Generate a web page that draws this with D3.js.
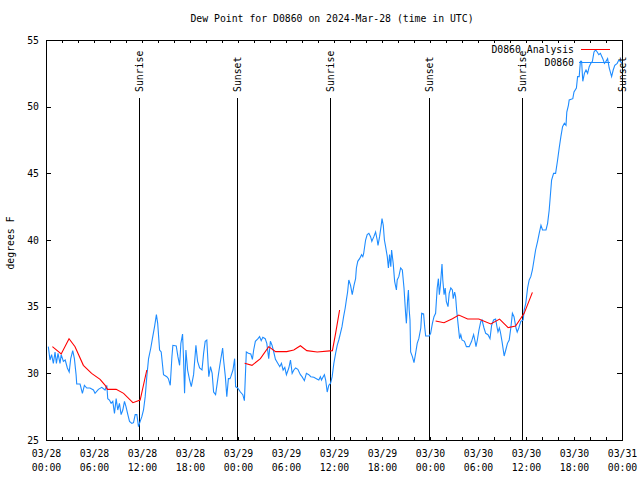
<!DOCTYPE html>
<html><head><meta charset="utf-8">
<script src="https://cdn.jsdelivr.net/npm/d3@7"></script>
<style>
body{margin:0;background:#fff;}
svg{display:block;}
text{font-family:"DejaVu Sans Mono","Liberation Mono",monospace;font-size:9.8px;fill:#000;}
</style></head><body>
<svg id="c" width="640" height="480"></svg>
<script>
const chartTitle = "Dew Point for D0860 on 2024-Mar-28 (time in UTC)";
const yLabel = "degrees F";
const seriesNames = ["D0860 Analysis", "D0860"];
const yTicks = [25, 30, 35, 40, 45, 50, 55];
const xTickHours = [0, 6, 12, 18, 24, 30, 36, 42, 48, 54, 60, 66, 72];
const xTickDay = ["03/28","03/28","03/28","03/28","03/29","03/29","03/29","03/29","03/30","03/30","03/30","03/30","03/31"];
const xTickTime = ["00:00","06:00","12:00","18:00","00:00","06:00","12:00","18:00","00:00","06:00","12:00","18:00","00:00"];
const eventNames = ["Sunrise","Sunset","Sunrise","Sunset","Sunrise","Sunset"];
const eventHours = [11.65, 23.9, 35.55, 47.9, 59.45, 71.95];

// observed dew point: [hours since 2024-03-28 00:00 UTC, degF]
const observed = [[0.29,32.0],[0.5,31.0],[0.7,31.4],[0.92,30.75],[1.13,31.6],[1.3,30.75],[1.5,31.5],[1.75,30.75],[1.9,31.4],[2.17,30.9],[2.4,31.0],[2.67,30.4],[2.9,30.1],[3.09,31.1],[3.34,31.7],[3.55,31.1],[3.76,29.9],[3.84,29.2],[4.26,29.2],[4.55,28.5],[4.8,29.1],[5.1,28.9],[5.5,28.9],[5.93,28.75],[6.13,28.5],[6.55,28.8],[6.97,28.95],[7.38,28.75],[7.6,29.1],[7.72,28.1],[7.93,28.0],[8.14,27.75],[8.35,27.9],[8.56,27.0],[8.77,28.1],[8.97,27.25],[9.18,27.75],[9.39,26.9],[9.6,27.25],[9.81,27.9],[10.0,27.5],[10.23,26.9],[10.44,26.4],[10.73,26.25],[10.94,26.3],[11.15,26.9],[11.36,26.9],[11.56,26.0],[11.77,26.4],[11.98,26.75],[12.19,27.25],[12.4,28.25],[12.6,29.75],[12.82,31.1],[13.1,31.9],[13.3,32.6],[13.57,33.5],[13.8,34.4],[13.96,33.75],[14.2,31.75],[14.4,31.6],[14.69,29.9],[15.1,29.75],[15.3,29.6],[15.53,29.1],[15.74,31.25],[15.86,32.1],[16.28,32.05],[16.49,31.25],[16.7,30.6],[16.86,32.25],[17.07,32.95],[17.2,31.0],[17.32,28.5],[17.49,31.75],[17.7,30.25],[17.95,29.5],[18.16,29.0],[18.45,29.9],[18.74,32.1],[18.95,30.9],[19.2,30.4],[19.5,30.25],[19.7,31.5],[19.9,32.4],[20.1,32.5],[20.35,29.75],[20.56,30.5],[20.77,30.0],[20.95,28.6],[21.2,28.4],[21.4,29.25],[21.6,30.1],[21.83,31.0],[22.08,31.9],[22.2,31.0],[22.42,29.75],[22.6,28.25],[22.8,29.6],[23.0,29.6],[23.1,29.75],[23.37,30.25],[23.58,31.1],[23.7,29.0],[23.96,28.9],[24.3,28.6],[24.6,28.4],[24.8,27.95],[25.04,31.6],[25.3,31.5],[25.6,31.45],[25.8,31.05],[25.96,31.75],[26.17,32.4],[26.5,32.6],[26.7,32.75],[26.9,32.45],[27.1,32.7],[27.4,32.6],[27.6,32.25],[27.84,31.1],[28.05,32.4],[28.26,32.1],[28.47,31.6],[28.68,31.05],[28.97,30.75],[29.22,30.5],[29.43,30.75],[29.64,30.25],[29.85,30.45],[30.05,29.9],[30.35,30.4],[30.56,31.0],[30.77,30.0],[30.98,30.25],[31.2,30.4],[31.48,30.3],[31.8,29.9],[32.0,29.75],[32.3,29.45],[32.55,30.0],[32.85,29.9],[33.1,29.75],[33.48,29.7],[33.8,29.6],[34.1,29.5],[34.3,29.75],[34.43,29.5],[34.65,29.75],[34.8,29.9],[34.96,29.5],[35.15,28.6],[35.35,29.1],[35.57,29.25],[35.77,29.75],[35.98,30.75],[36.2,31.5],[36.4,32.1],[36.6,32.5],[36.8,33.0],[37.0,33.5],[37.2,34.25],[37.4,34.9],[37.57,35.6],[37.7,36.1],[37.85,37.0],[38.07,36.6],[38.28,35.9],[38.5,36.6],[38.7,37.1],[38.8,37.9],[38.97,38.4],[39.2,38.6],[39.45,38.9],[39.6,38.75],[39.7,38.95],[39.95,40.0],[40.15,40.4],[40.36,40.5],[40.57,40.25],[40.73,39.9],[40.98,40.25],[41.2,40.6],[41.4,40.0],[41.5,39.6],[41.7,40.25],[41.9,41.1],[42.0,41.6],[42.16,41.1],[42.3,40.0],[42.45,39.5],[42.66,38.75],[42.8,37.9],[42.95,38.9],[43.1,38.0],[43.2,39.25],[43.4,38.25],[43.58,36.9],[43.8,36.25],[43.9,37.0],[44.1,37.25],[44.33,37.9],[44.54,37.75],[44.75,36.4],[44.95,34.5],[45.05,33.75],[45.2,35.5],[45.3,36.25],[45.4,34.75],[45.5,34.0],[45.58,31.6],[45.8,31.25],[46.0,30.8],[46.2,31.5],[46.4,32.25],[46.6,32.6],[46.85,33.4],[46.96,34.5],[47.2,34.45],[47.35,33.4],[47.46,32.8],[47.9,32.8],[48.08,33.0],[48.3,33.75],[48.5,34.25],[48.7,34.5],[48.9,36.4],[49.05,37.1],[49.17,35.9],[49.3,36.6],[49.5,38.2],[49.6,37.0],[49.76,35.9],[49.9,36.4],[50.04,35.4],[50.25,35.0],[50.4,36.0],[50.6,36.4],[50.8,36.25],[50.9,35.6],[51.08,36.1],[51.2,35.75],[51.33,34.75],[51.5,33.75],[51.7,32.6],[51.85,32.9],[52.0,32.5],[52.3,32.4],[52.55,32.0],[52.9,32.0],[53.2,32.4],[53.45,32.9],[53.6,32.5],[53.75,32.0],[53.92,32.5],[54.12,33.25],[54.35,33.9],[54.5,34.0],[54.75,33.4],[54.96,33.0],[55.25,32.9],[55.5,32.6],[55.7,33.6],[55.95,34.0],[56.2,34.07],[56.4,33.4],[56.5,33.1],[56.67,33.4],[56.8,33.1],[57.0,32.4],[57.27,31.3],[57.47,31.75],[57.68,32.25],[57.9,32.5],[58.1,33.4],[58.3,34.5],[58.5,34.25],[58.75,33.4],[58.9,33.1],[59.1,33.4],[59.35,33.9],[59.65,34.0],[59.77,34.75],[59.97,35.25],[60.2,36.4],[60.4,37.0],[60.6,37.25],[60.8,37.75],[61.0,38.5],[61.2,39.25],[61.45,39.9],[61.65,40.5],[61.87,41.1],[62.07,40.75],[62.5,40.75],[62.7,41.25],[62.9,42.25],[63.0,43.0],[63.2,44.5],[63.45,45.0],[63.7,45.0],[63.95,46.0],[64.15,46.9],[64.36,47.75],[64.57,48.5],[64.8,48.75],[65.0,48.6],[65.1,49.6],[65.3,50.1],[65.4,50.5],[65.85,50.6],[66.0,51.1],[66.3,51.4],[66.45,52.25],[66.65,52.25],[66.8,53.4],[66.95,53.4],[67.1,51.9],[67.3,52.5],[67.5,52.75],[67.7,52.5],[67.9,53.0],[68.1,53.25],[68.3,53.4],[68.5,54.1],[68.7,54.25],[68.9,54.1],[69.1,53.9],[69.3,54.0],[69.6,53.6],[69.8,53.25],[70.0,53.4],[70.2,53.6],[70.4,52.9],[70.7,52.25],[70.9,52.75],[71.1,53.1],[71.4,53.25],[71.6,53.5],[71.8,53.4],[72.0,53.25]];

// analysis dew point, three separate runs
const analysisDay1 = [[0.8,32.0],[1.9,31.45],[2.88,32.6],[3.63,32.0],[4.67,30.6],[5.7,30.0],[6.76,29.55],[7.4,29.1],[7.68,28.8],[8.77,28.8],[9.7,28.5],[10.86,27.8],[11.77,28.0],[12.6,30.25]];
const analysisDay2 = [[24.83,30.75],[25.75,30.6],[26.8,31.1],[27.84,32.0],[28.7,31.63],[30.1,31.63],[30.97,31.75],[31.8,32.07],[32.6,31.7],[33.9,31.6],[35.8,31.7],[36.2,33.0],[36.7,34.75]];
const analysisDay3 = [[48.7,33.93],[49.75,33.8],[50.8,34.1],[51.6,34.37],[52.7,34.07],[54.1,34.07],[55.6,33.7],[56.7,34.07],[57.77,33.43],[58.7,33.55],[59.77,34.5],[60.8,36.07]];

const L = 46, R = 622, T = 40, B = 440;
const t0 = Date.UTC(2024, 2, 28);
const toDate = h => new Date(t0 + h * 3600e3);
const x = d3.scaleUtc().domain([toDate(0), toDate(72)]).range([L, R]);
const y = d3.scaleLinear().domain([25, 55]).range([B, T]);
const svg = d3.select("#c");
const FONT = '"DejaVu Sans Mono","Liberation Mono",monospace';

function styleAxis(g) {
  g.attr("font-family", FONT).attr("font-size", 9.8);
  g.select(".domain").remove();
  g.selectAll(".tick line").attr("stroke", "#000").attr("shape-rendering", "crispEdges");
}

// minor/major x ticks (every 2 h), bottom and top, pointing inward
svg.append("g").attr("transform", `translate(0,${B})`)
  .call(d3.axisBottom(x).ticks(d3.utcHour.every(2)).tickSize(-3).tickFormat(""))
  .call(styleAxis);
svg.append("g").attr("transform", `translate(0,${T})`)
  .call(d3.axisTop(x).ticks(d3.utcHour.every(2)).tickSize(-3).tickFormat(""))
  .call(styleAxis);

// x labels
const gx = svg.append("g").attr("transform", `translate(0,${B})`)
  .call(d3.axisBottom(x).tickValues(xTickHours.map(toDate)).tickSize(0).tickFormat(""))
  .call(styleAxis);
gx.selectAll(".tick text").each(function(d, i) {
  const t = d3.select(this).attr("y", null).attr("dy", null).attr("fill", "#000");
  t.append("tspan").attr("x", 0).attr("y", 17).text(xTickDay[i]);
  t.append("tspan").attr("x", 0).attr("y", 31).text(xTickTime[i]);
});

// y axes
svg.append("g").attr("transform", `translate(${L},0)`)
  .call(d3.axisLeft(y).tickValues(yTicks).tickSize(-5).tickPadding(7).tickFormat(d3.format("d")))
  .call(styleAxis)
  .selectAll("text").attr("fill", "#000");
svg.append("g").attr("transform", `translate(${R},0)`)
  .call(d3.axisRight(y).tickValues(yTicks).tickSize(-5).tickFormat(""))
  .call(styleAxis);

// frame
svg.append("rect").attr("x", L + 0.5).attr("y", T + 0.5).attr("width", R - L - 1 + 0.5).attr("height", B - T)
  .attr("fill", "none").attr("stroke", "#000").attr("shape-rendering", "crispEdges");

// event lines
const ev = svg.append("g");
eventHours.forEach((h, i) => {
  const px = Math.round(x(toDate(h))) + 0.5;
  ev.append("line").attr("x1", px).attr("x2", px).attr("y1", 98).attr("y2", B)
    .attr("stroke", "#000").attr("shape-rendering", "crispEdges");
  ev.append("text").attr("transform", `translate(${px},92) rotate(-90)`)
    .attr("dy", "0.35em").attr("text-anchor", "start").text(eventNames[i]);
});

const line = d3.line().x(d => x(toDate(d[0]))).y(d => y(d[1]));
svg.append("path").datum(observed).attr("d", line)
  .attr("fill", "none").attr("stroke", "#1e8cff").attr("stroke-width", 1.1);
[analysisDay1, analysisDay2, analysisDay3].forEach(a => {
  svg.append("path").datum(a).attr("d", line)
    .attr("fill", "none").attr("stroke", "#ff0000").attr("stroke-width", 1.1);
});

// legend
const leg = svg.append("g");
leg.append("text").attr("x", 574).attr("y", 49.5).attr("dy", "0.35em").attr("text-anchor", "end").text(seriesNames[0]);
leg.append("line").attr("x1", 581).attr("x2", 610).attr("y1", 49.5).attr("y2", 49.5).attr("stroke", "#ff0000");
leg.append("text").attr("x", 574).attr("y", 62.5).attr("dy", "0.35em").attr("text-anchor", "end").text(seriesNames[1]);
leg.append("line").attr("x1", 579).attr("x2", 610).attr("y1", 62.5).attr("y2", 62.5).attr("stroke", "#1e8cff");

// title and y label
svg.append("text").attr("x", 332).attr("y", 19).attr("dy", "0.35em").attr("text-anchor", "middle").text(chartTitle);
svg.append("text").attr("transform", "translate(11,243) rotate(-90)").attr("dy", "0.35em")
  .attr("text-anchor", "middle").text(yLabel);
</script>
</body></html>
